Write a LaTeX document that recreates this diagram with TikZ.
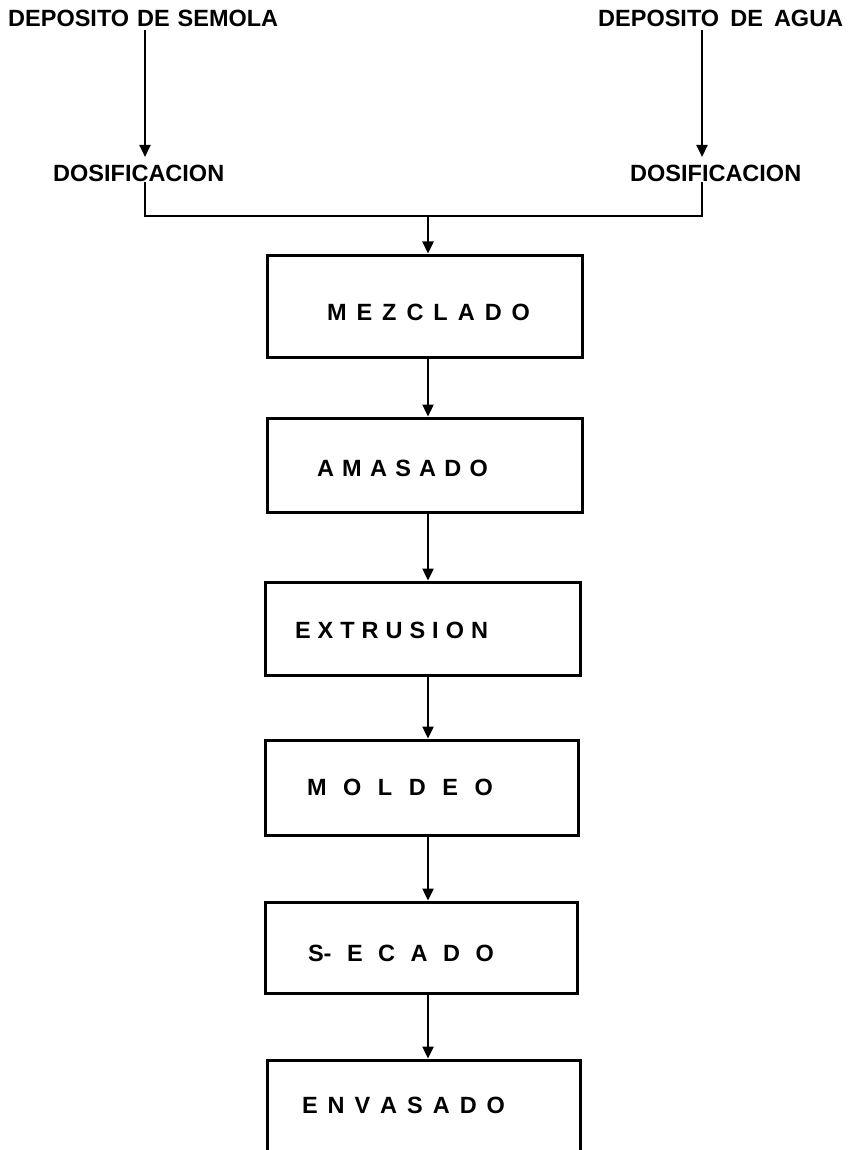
\documentclass[tikz,border=0pt]{standalone}
\usepackage{fontspec}
\setmainfont{Liberation Sans}
\usetikzlibrary{arrows.meta}
\newcommand{\boxlbl}[5]{\makebox[#1][l]{\hspace{#2}\raisebox{#4}[0pt][0pt]{\makebox[#3][s]{#5}}}}
\tikzset{
  lbl/.style={inner sep=0pt, anchor=south west, font=\fontsize{23.5}{27}\selectfont\bfseries},
  stepbox/.style={draw, line width=3pt, inner sep=0pt, font=\fontsize{23.5}{27}\selectfont\bfseries},
  ln/.style={line width=2.4pt, line join=miter},
  arr/.style={line width=2.4pt, -{Triangle[length=12pt,width=11pt]}},
}
\begin{document}
\begin{tikzpicture}[x=1pt,y=-1pt]
\useasboundingbox (0,0) rectangle (851,1150);
\fill[white] (0,0) rectangle (851,1150);
% top labels
\node[lbl] (sem) at (8,27) {\makebox[270pt][s]{DEPOSITO DE SEMOLA}};
\node[lbl] (agua) at (598,27) {\makebox[245pt][s]{DEPOSITO DE AGUA}};
\node[lbl] (dosl) at (53,182) {DOSIFICACION};
\node[lbl] (dosr) at (630,182) {DOSIFICACION};
% boxes
\node[stepbox, minimum width=315pt, minimum height=102pt] (mez) at (424.5,306)
  {\boxlbl{315pt}{60pt}{203pt}{-14.4pt}{M E Z C L A D O}};
\node[stepbox, minimum width=315pt, minimum height=94pt] (ama) at (424.5,465)
  {\boxlbl{315pt}{50pt}{171pt}{-11.4pt}{A M A S A D O}};
\node[stepbox, minimum width=315pt, minimum height=93pt] (ext) at (422.5,628.5)
  {\boxlbl{315pt}{30pt}{193pt}{-9.9pt}{E\hfil X\hfil T\hfil R\hfil U\hfil S\hfil I\hfil O\hfil N}};
\node[stepbox, minimum width=313pt, minimum height=95pt] (mol) at (421.5,787.5)
  {\boxlbl{313pt}{42pt}{186pt}{-7.9pt}{M O L D E O}};
\node[stepbox, minimum width=312pt, minimum height=91pt] (sec) at (421,947.5)
  {\boxlbl{312pt}{43pt}{186pt}{-13.9pt}{S- E C A D O}};
\node[stepbox, minimum width=313pt, minimum height=92pt] (env) at (423.5,1106)
  {\boxlbl{313pt}{35pt}{203pt}{-7.4pt}{E N V A S A D O}};
% connectors
\coordinate (cl) at (145,0);
\coordinate (cr) at (702,0);
\coordinate (cm) at (428,0);
\coordinate (j) at (428,216);
\draw[arr, shorten <=3pt, shorten >=8pt] (sem.south -| cl) -- (dosl.north -| cl);
\draw[arr, shorten <=3pt, shorten >=8pt] (agua.south -| cr) -- (dosr.north -| cr);
\draw[ln] (dosl.south -| cl) |- (j) -| (dosr.south -| cr);
\draw[arr] (j) -- (mez.north -| cm);
\draw[arr] (mez.south -| cm) -- (ama.north -| cm);
\draw[arr] (ama.south -| cm) -- (ext.north -| cm);
\draw[arr] (ext.south -| cm) -- (mol.north -| cm);
\draw[arr] (mol.south -| cm) -- (sec.north -| cm);
\draw[arr] (sec.south -| cm) -- (env.north -| cm);
\end{tikzpicture}
\end{document}
